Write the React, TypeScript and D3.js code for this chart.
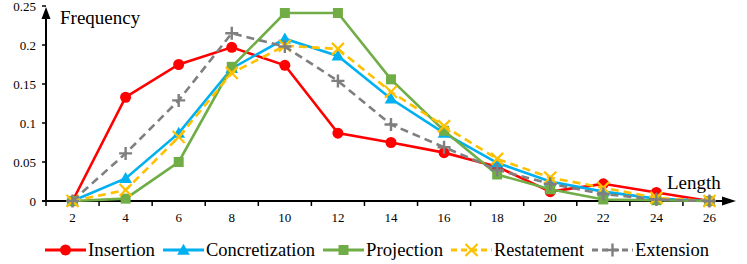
import React from "react";
import { scaleBand, scaleLinear, line, symbol, symbolTriangle } from "d3";

const categories = ["2", "4", "6", "8", "10", "12", "14", "16", "18", "20", "22", "24", "26"];
const yTicks = [0, 0.05, 0.1, 0.15, 0.2, 0.25];
const yTickLabels = ["0", "0.05", "0.1", "0.15", "0.2", "0.25"];

const insertion = [0, 0.133, 0.175, 0.197, 0.174, 0.087, 0.075, 0.062, 0.044, 0.012, 0.022, 0.011, 0];
const concretization = [0, 0.029, 0.087, 0.17, 0.208, 0.186, 0.131, 0.087, 0.049, 0.025, 0.012, 0.003, 0];
const projection = [0, 0.003, 0.05, 0.172, 0.241, 0.241, 0.156, 0.09, 0.034, 0.015, 0.002, 0.001, 0];
const restatement = [0, 0.014, 0.082, 0.164, 0.199, 0.195, 0.14, 0.096, 0.054, 0.03, 0.017, 0.004, 0];
const extension = [0, 0.061, 0.129, 0.215, 0.198, 0.154, 0.098, 0.069, 0.04, 0.022, 0.009, 0.002, 0];

const series = [
  { name: "Insertion", values: insertion, color: "#FF0000", dash: null, marker: "circle", textW: 67 },
  { name: "Concretization", values: concretization, color: "#00B0F0", dash: null, marker: "triangle", textW: 109 },
  { name: "Projection", values: projection, color: "#70AD47", dash: null, marker: "square", textW: 77 },
  { name: "Restatement", values: restatement, color: "#FFC000", dash: "8,5", marker: "x", textW: 90 },
  { name: "Extension", values: extension, color: "#7F7F7F", dash: "8,5", marker: "plus", textW: 74 },
];

const FONT = "'Liberation Serif', 'DejaVu Serif', 'Times New Roman', serif";

function Marker({ type, x, y, color }: { type: string; x: number; y: number; color: string }) {
  if (type === "circle") return <circle cx={x} cy={y} r={5.5} fill={color} />;
  if (type === "square") return <rect x={x - 5} y={y - 5} width={10} height={10} fill={color} />;
  if (type === "triangle") {
    const d = symbol().type(symbolTriangle).size(70)() as string;
    return <path d={d} transform={`translate(${x},${y + 1})`} fill={color} />;
  }
  if (type === "x") {
    const s = 6;
    return (
      <path d={`M${x - s},${y - s}L${x + s},${y + s}M${x - s},${y + s}L${x + s},${y - s}`} stroke={color} strokeWidth={2.2} />
    );
  }
  const s = 6.5;
  return <path d={`M${x - s},${y}L${x + s},${y}M${x},${y - s}L${x},${y + s}`} stroke={color} strokeWidth={2.4} />;
}

export default function App() {
  const width = 747;
  const height = 264;
  const x = scaleBand<string>().domain(categories).range([46, 736]);
  const y = scaleLinear().domain([0, 0.25]).range([201, 6]);
  const cx = (c: string) => (x(c) as number) + x.bandwidth() / 2;

  const gen = line<number>()
    .x((_, i) => cx(categories[i]))
    .y((d) => y(d));

  // legend layout
  const lineLen = 41;
  let lx = 45;
  const legendItems = series.map((s) => {
    const item = { ...s, x0: lx };
    lx += lineLen + 2 + s.textW + 8;
    return item;
  });
  const ly = 250;
  const txt = { fontFamily: FONT, fill: "#000" };

  return (
    <svg width={width} height={height} style={{ position: "absolute", left: 0, top: 0, fontFamily: FONT }}>
      <rect width={width} height={height} fill="#fff" />

      {/* y ticks and labels */}
      {yTicks.map((t, i) => (
        <g key={t}>
          <line x1={42} x2={46} y1={y(t)} y2={y(t)} stroke="#000" strokeWidth={1.5} />
          <text x={36} y={y(t) + 4.5} textAnchor="end" fontSize={13} style={txt}>
            {yTickLabels[i]}
          </text>
        </g>
      ))}

      {/* x ticks and labels */}
      {categories.map((c) => (
        <g key={c}>
          <line x1={x(c) as number} x2={x(c) as number} y1={201} y2={206} stroke="#000" strokeWidth={1.5} />
          <text x={cx(c)} y={222} textAnchor="middle" fontSize={13} style={txt}>
            {c}
          </text>
        </g>
      ))}

      {/* axes */}
      <line x1={46} x2={46} y1={201} y2={18} stroke="#000" strokeWidth={2} />
      <path d="M46,7L41.5,19L50.5,19Z" fill="#000" />
      <line x1={42} x2={724} y1={201} y2={201} stroke="#000" strokeWidth={2} />
      <path d="M736,201L722,196.5L722,205.5Z" fill="#000" />

      <text x={60} y={24} fontSize={19} style={txt}>Frequency</text>
      <text x={667} y={189} fontSize={19} style={txt}>Length</text>

      {/* series */}
      {series.map((s) => (
        <g key={s.name}>
          <path
            d={gen(s.values) as string}
            fill="none"
            stroke={s.color}
            strokeWidth={2.6}
            strokeDasharray={s.dash || undefined}
          />
          {s.values.map((v, i) => (
            <Marker key={i} type={s.marker} x={cx(categories[i])} y={y(v)} color={s.color} />
          ))}
        </g>
      ))}

      {/* legend */}
      {legendItems.map((s) => (
        <g key={s.name}>
          <line
            x1={s.x0}
            x2={s.x0 + lineLen}
            y1={ly}
            y2={ly}
            stroke={s.color}
            strokeWidth={3}
            strokeDasharray={s.dash ? "6,4" : undefined}
          />
          <Marker type={s.marker} x={s.x0 + lineLen / 2} y={ly} color={s.color} />
          <text
            x={s.x0 + lineLen + 2}
            y={ly + 6}
            fontSize={18.5}
            textLength={s.textW}
            lengthAdjust="spacingAndGlyphs"
            style={txt}
          >
            {s.name}
          </text>
        </g>
      ))}
    </svg>
  );
}
